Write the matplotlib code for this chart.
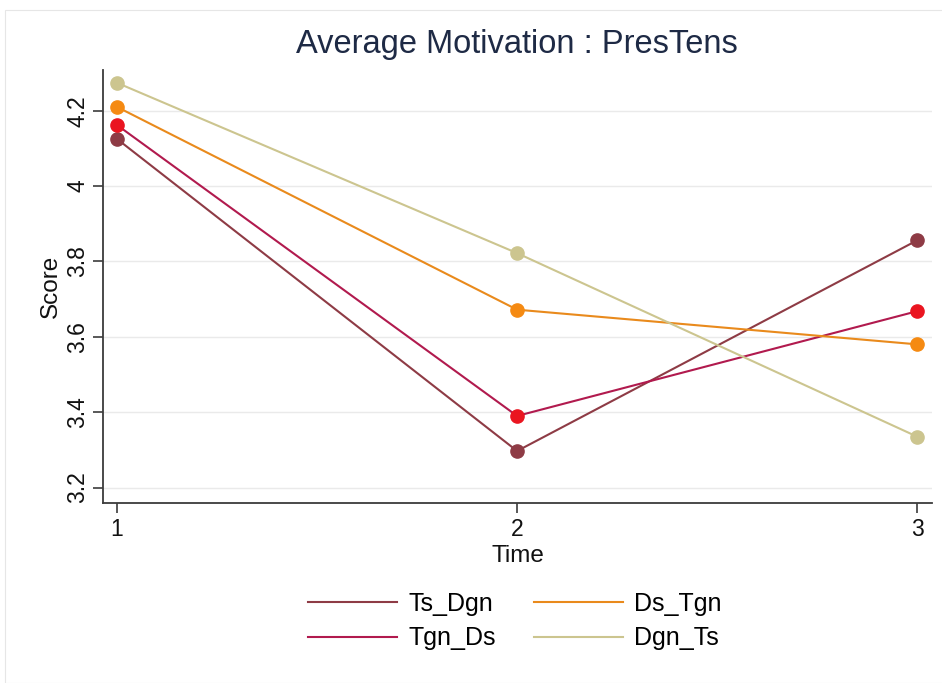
import matplotlib
matplotlib.use("Agg")
import matplotlib.pyplot as plt
from matplotlib.patches import Rectangle
from matplotlib.lines import Line2D

plt.rcParams['font.family'] = ['Liberation Sans', 'DejaVu Sans']

time = [1, 2, 3]
series_names = ["Ts_Dgn", "Tgn_Ds", "Ds_Tgn", "Dgn_Ts"]
ts_dgn = [4.125, 3.297, 3.856]
tgn_ds = [4.162, 3.390, 3.668]
ds_tgn = [4.210, 3.672, 3.580]
dgn_ts = [4.274, 3.822, 3.335]
yticks = [3.2, 3.4, 3.6, 3.8, 4.0, 4.2]
ytick_labels = ["3.2", "3.4", "3.6", "3.8", "4", "4.2"]
xticks = [1, 2, 3]

line_colors = ["#8E3B45", "#B11A4E", "#E98A1C", "#CCC58F"]
marker_colors = ["#8E3B45", "#EA1520", "#F58A12", "#CCC58F"]
values = [ts_dgn, tgn_ds, ds_tgn, dgn_ts]

fig = plt.figure(figsize=(9.42, 6.83), dpi=100)
fig.patches.append(Rectangle((5/942, 0), 1, 1 - 10/683, transform=fig.transFigure,
                             fill=False, edgecolor="#E6E6E6", linewidth=0.8))
ax = fig.add_axes([103/942, 1 - 503/683, (932 - 103)/942, (503 - 70)/683])

for name, vals, lc, mc in zip(series_names, values, line_colors, marker_colors):
    ax.plot(time, vals, color=lc, linewidth=1.5, marker='o', markersize=9.5,
            markerfacecolor=mc, markeredgecolor=mc, label=name, zorder=3)

ax.set_xlim(0.965, 3.037)
ax.set_ylim(3.159, 4.308)
ax.set_yticks(yticks)
ax.set_yticklabels(ytick_labels, rotation=90, va='center')
ax.set_xticks(xticks)
ax.set_xticklabels([str(t) for t in xticks])
ax.grid(axis='y', color="#EAEAEA", linewidth=1)
ax.set_axisbelow(True)
for s in ['top', 'right']:
    ax.spines[s].set_visible(False)
for s in ['left', 'bottom']:
    ax.spines[s].set_color("#3C3C3C")
    ax.spines[s].set_linewidth(1.3)
ax.tick_params(axis='both', colors="#3C3C3C", labelcolor="#111111", labelsize=16.5,
               length=7, width=1.2, direction='out')
ax.tick_params(axis='x', pad=4)
ax.tick_params(axis='y', pad=3)
ax.set_xlabel("Time", fontsize=17.5, color="#111111", labelpad=3)
ax.set_ylabel("Score", fontsize=17.5, color="#111111", labelpad=3)

fig.text(517/942, 1 - 45/683, "Average Motivation : PresTens", ha='center', va='center',
         fontsize=23.5, color="#1E2A45")

labels = series_names
lh = [Line2D([0], [0], color=c, linewidth=1.5) for c in line_colors]
fig.legend(lh, labels, loc='center', bbox_to_anchor=(515/942, 1 - 621/683), ncol=2,
           frameon=False, fontsize=18, handlelength=3.55, handletextpad=0.45,
           columnspacing=1.55, labelspacing=0.42)

fig.savefig("out.png", dpi=100)
